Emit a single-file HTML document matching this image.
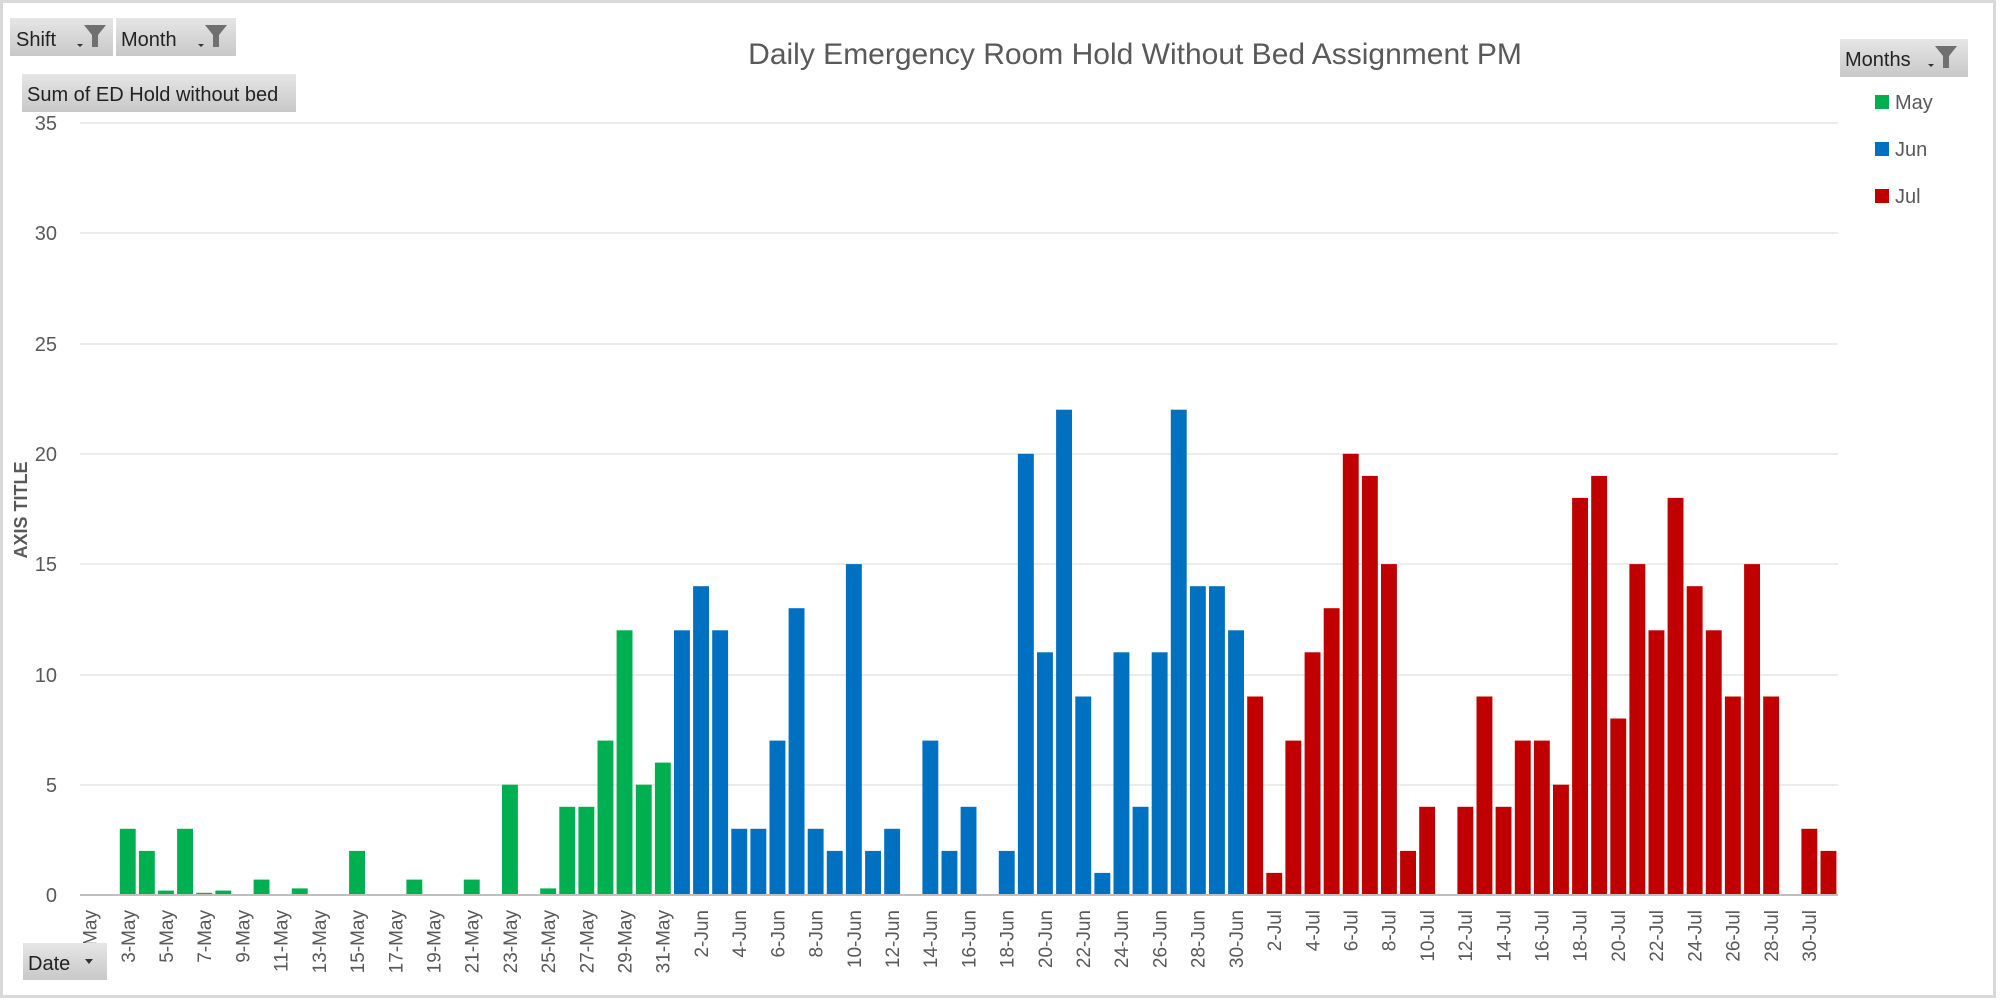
<!DOCTYPE html>
<html><head><meta charset="utf-8"><style>
body{margin:0;background:#fff;}
svg{display:block;font-family:"Liberation Sans",sans-serif;}
.btn{fill:url(#g);}
.xl{font-size:19px;fill:#595959;text-anchor:end;}
.yl{font-size:20px;fill:#595959;text-anchor:end;}
</style></head><body>
<svg width="2000" height="1000" viewBox="0 0 2000 1000">
<defs><linearGradient id="g" x1="0" y1="0" x2="0" y2="1"><stop offset="0" stop-color="#e6e6e6"/><stop offset="1" stop-color="#c8c8c8"/></linearGradient></defs>
<rect x="1.5" y="1.5" width="1993" height="995" fill="#fff" stroke="#d9d9d9" stroke-width="3"/>
<g stroke="#ececec" stroke-width="2">
<line x1="80" x2="1838" y1="123" y2="123"/><line x1="80" x2="1838" y1="233" y2="233"/><line x1="80" x2="1838" y1="344" y2="344"/><line x1="80" x2="1838" y1="454" y2="454"/><line x1="80" x2="1838" y1="564" y2="564"/><line x1="80" x2="1838" y1="675" y2="675"/><line x1="80" x2="1838" y1="785" y2="785"/>
</g>
<g class="yl"><text x="57" y="130">35</text><text x="57" y="240">30</text><text x="57" y="351">25</text><text x="57" y="461">20</text><text x="57" y="571">15</text><text x="57" y="682">10</text><text x="57" y="792">5</text><text x="57" y="902">0</text></g>
<g id="bars"></g>
<line x1="80" x2="1838" y1="895" y2="895" stroke="#bfbfbf" stroke-width="2"/>
<text x="1135" y="64" font-size="30" fill="#595959" text-anchor="middle">Daily Emergency Room Hold Without Bed Assignment PM</text>
<text transform="translate(27,510) rotate(-90)" font-size="18" font-weight="bold" fill="#595959" text-anchor="middle">AXIS TITLE</text>
<g class="xl">
<text transform="translate(96.6,910) rotate(-90)">1-May</text><text transform="translate(134.8,910) rotate(-90)">3-May</text><text transform="translate(173,910) rotate(-90)">5-May</text><text transform="translate(211.2,910) rotate(-90)">7-May</text><text transform="translate(249.4,910) rotate(-90)">9-May</text><text transform="translate(287.6,910) rotate(-90)">11-May</text><text transform="translate(325.8,910) rotate(-90)">13-May</text><text transform="translate(364.1,910) rotate(-90)">15-May</text><text transform="translate(402.3,910) rotate(-90)">17-May</text><text transform="translate(440.5,910) rotate(-90)">19-May</text><text transform="translate(478.7,910) rotate(-90)">21-May</text><text transform="translate(516.9,910) rotate(-90)">23-May</text><text transform="translate(555.1,910) rotate(-90)">25-May</text><text transform="translate(593.3,910) rotate(-90)">27-May</text><text transform="translate(631.5,910) rotate(-90)">29-May</text><text transform="translate(669.7,910) rotate(-90)">31-May</text>
<text transform="translate(707.9,910) rotate(-90)">2-Jun</text><text transform="translate(746.1,910) rotate(-90)">4-Jun</text><text transform="translate(784.3,910) rotate(-90)">6-Jun</text><text transform="translate(822.5,910) rotate(-90)">8-Jun</text><text transform="translate(860.8,910) rotate(-90)">10-Jun</text><text transform="translate(899,910) rotate(-90)">12-Jun</text><text transform="translate(937.2,910) rotate(-90)">14-Jun</text><text transform="translate(975.4,910) rotate(-90)">16-Jun</text><text transform="translate(1013.6,910) rotate(-90)">18-Jun</text><text transform="translate(1051.8,910) rotate(-90)">20-Jun</text><text transform="translate(1090,910) rotate(-90)">22-Jun</text><text transform="translate(1128.2,910) rotate(-90)">24-Jun</text><text transform="translate(1166.4,910) rotate(-90)">26-Jun</text><text transform="translate(1204.6,910) rotate(-90)">28-Jun</text><text transform="translate(1242.8,910) rotate(-90)">30-Jun</text>
<text transform="translate(1281.1,910) rotate(-90)">2-Jul</text><text transform="translate(1319.3,910) rotate(-90)">4-Jul</text><text transform="translate(1357.5,910) rotate(-90)">6-Jul</text><text transform="translate(1395.7,910) rotate(-90)">8-Jul</text><text transform="translate(1433.9,910) rotate(-90)">10-Jul</text><text transform="translate(1472.1,910) rotate(-90)">12-Jul</text><text transform="translate(1510.3,910) rotate(-90)">14-Jul</text><text transform="translate(1548.5,910) rotate(-90)">16-Jul</text><text transform="translate(1586.7,910) rotate(-90)">18-Jul</text><text transform="translate(1624.9,910) rotate(-90)">20-Jul</text><text transform="translate(1663.1,910) rotate(-90)">22-Jul</text><text transform="translate(1701.4,910) rotate(-90)">24-Jul</text><text transform="translate(1739.6,910) rotate(-90)">26-Jul</text><text transform="translate(1777.8,910) rotate(-90)">28-Jul</text><text transform="translate(1816,910) rotate(-90)">30-Jul</text>
</g>
<rect class="btn" x="10" y="18" width="103" height="38"/><text x="16" y="46" font-size="20" fill="#222">Shift</text>
<path d="M77 44h6l-3 3z" fill="#333"/><path d="M84 25h22l-8 10v12h-6v-12z" fill="#707070"/>
<rect class="btn" x="116" y="18" width="120" height="38"/><text x="121" y="46" font-size="20" fill="#222">Month</text>
<path d="M198 44h6l-3 3z" fill="#333"/><path d="M205 25h22l-8 10v12h-6v-12z" fill="#707070"/>
<rect class="btn" x="22" y="74" width="274" height="38"/><text x="27" y="101" font-size="20" fill="#222">Sum of ED Hold without bed</text>
<rect class="btn" x="23" y="943" width="84" height="37"/><text x="28" y="970" font-size="20" fill="#222">Date</text>
<path d="M85 959h8l-4 5z" fill="#333"/>
<rect class="btn" x="1840" y="39" width="128" height="38"/><text x="1845" y="66" font-size="20" fill="#222">Months</text>
<path d="M1928 64h6l-3 3z" fill="#333"/><path d="M1935 46h22l-8 10v12h-6v-12z" fill="#707070"/>
<rect x="1875" y="95" width="14" height="14" fill="#00b050"/><text x="1895" y="109" font-size="20" fill="#595959">May</text>
<rect x="1875" y="142" width="14" height="14" fill="#0070c0"/><text x="1895" y="156" font-size="20" fill="#595959">Jun</text>
<rect x="1875" y="189" width="14" height="14" fill="#c00000"/><text x="1895" y="203" font-size="20" fill="#595959">Jul</text>
</svg>
<script>
var may=[0,0,3,2,0.2,3,0.1,0.2,0,0.7,0,0.3,0,0,2,0,0,0.7,0,0,0.7,0,5,0,0.3,4,4,7,12,5,6];
var jun=[12,14,12,3,3,7,13,3,2,15,2,3,0,7,2,4,0,2,20,11,22,9,1,11,4,11,22,14,14,12];
var jul=[9,1,7,11,13,20,19,15,2,4,0,4,9,4,7,7,5,18,19,8,15,12,18,14,12,9,15,9,0,3,2];
var s='',w=1758/92,i=0;
function add(a,c){a.forEach(function(v){if(v>0){var h=v*22.06;s+='<rect x="'+(80+i*w+1.6).toFixed(1)+'" y="'+(895-h).toFixed(1)+'" width="'+(w-3.2).toFixed(1)+'" height="'+h.toFixed(1)+'" fill="'+c+'"/>';}i++;});}
add(may,'#00b050');add(jun,'#0070c0');add(jul,'#c00000');
document.getElementById('bars').innerHTML=s;
</script>
</body></html>
